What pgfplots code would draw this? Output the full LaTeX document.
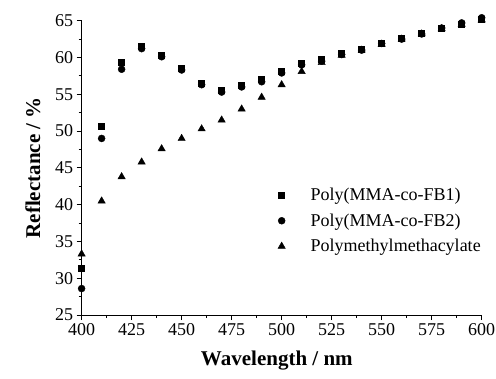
\documentclass[border=0pt]{standalone}
\usepackage{pgfplots}
\pgfplotsset{compat=1.18}
\usepackage{fontspec}
\setmainfont{Liberation Serif}
\begin{document}
\begin{tikzpicture}
\begin{axis}[
 scale only axis, width=400pt, height=294.3pt,
 xmin=400, xmax=600, ymin=25, ymax=65,
 axis x line*=bottom, axis y line*=left,
 xtick={400,425,...,600}, ytick={25,30,...,65},
 minor x tick num=1, minor y tick num=1,
 tick align=outside, major tick length=5pt, minor tick length=3pt,
 tick style={black, line width=0.8pt},
 axis line style={line width=0.8pt},
 /pgf/number format/assume math mode=true,
 ticklabel style={font=\fontsize{18}{18}\selectfont},
 xlabel={Wavelength / nm}, ylabel={Reflectance / \%},
 every axis x label/.style={at={(axis description cs:0.488,-0.156)},anchor=center,font=\fontsize{21}{21}\selectfont\bfseries},
 every axis y label/.style={at={(axis description cs:-0.122,0.5)},rotate=90,anchor=center,font=\fontsize{21}{21}\selectfont\bfseries},
 legend style={at={(axis description cs:0.483,0.445)}, anchor=north west, draw=none, fill=none,
   font=\fontsize{18}{18}\selectfont, row sep=7.5pt},
 legend cell align=left,
 legend image code/.code={\path[draw=none,fill=none] (0cm,0cm) -- (0.95cm,0cm); \draw[#1] plot coordinates {(0cm,0cm)};},
 clip=false,
]
\addplot[only marks, mark=square*, mark size=3pt, black] coordinates {
(400,31.4) (410,50.7) (420,59.3) (430,61.6) (440,60.3) (450,58.5) (460,56.5) (470,55.5) (480,56.3) (490,57.0)
(500,58.1) (510,59.2) (520,59.8) (530,60.6) (540,61.1) (550,61.9) (560,62.6) (570,63.3) (580,64.0) (590,64.5) (600,65.2)};
\addlegendentry{Poly(MMA-co-FB1)}
\addplot[only marks, mark=*, mark size=3.5pt, black] coordinates {
(400,28.6) (410,49.0) (420,58.4) (430,61.2) (440,60.1) (450,58.3) (460,56.3) (470,55.3) (480,56.0) (490,56.7)
(500,57.9) (510,59.0) (520,59.5) (530,60.4) (540,61.0) (550,61.9) (560,62.5) (570,63.2) (580,64.0) (590,64.7) (600,65.4)};
\addlegendentry{Poly(MMA-co-FB2)}
\addplot[only marks, mark=triangle*, mark size=4.2pt, black] coordinates {
(400,33.3) (410,40.5) (420,43.8) (430,45.8) (440,47.6) (450,49.0) (460,50.3) (470,51.5) (480,53.0) (490,54.6)
(500,56.3) (510,58.1) (520,59.3) (530,60.3) (540,61.0) (550,61.8) (560,62.5) (570,63.2) (580,63.9) (590,64.5) (600,65.1)};
\addlegendentry{Polymethylmethacylate}
\coordinate (bl) at (rel axis cs:-0.204,-0.214);
\coordinate (tr) at (rel axis cs:1.0358,1.0703);
\end{axis}
\pgfresetboundingbox
\path[use as bounding box] (bl) rectangle (tr);
\end{tikzpicture}
\end{document}
